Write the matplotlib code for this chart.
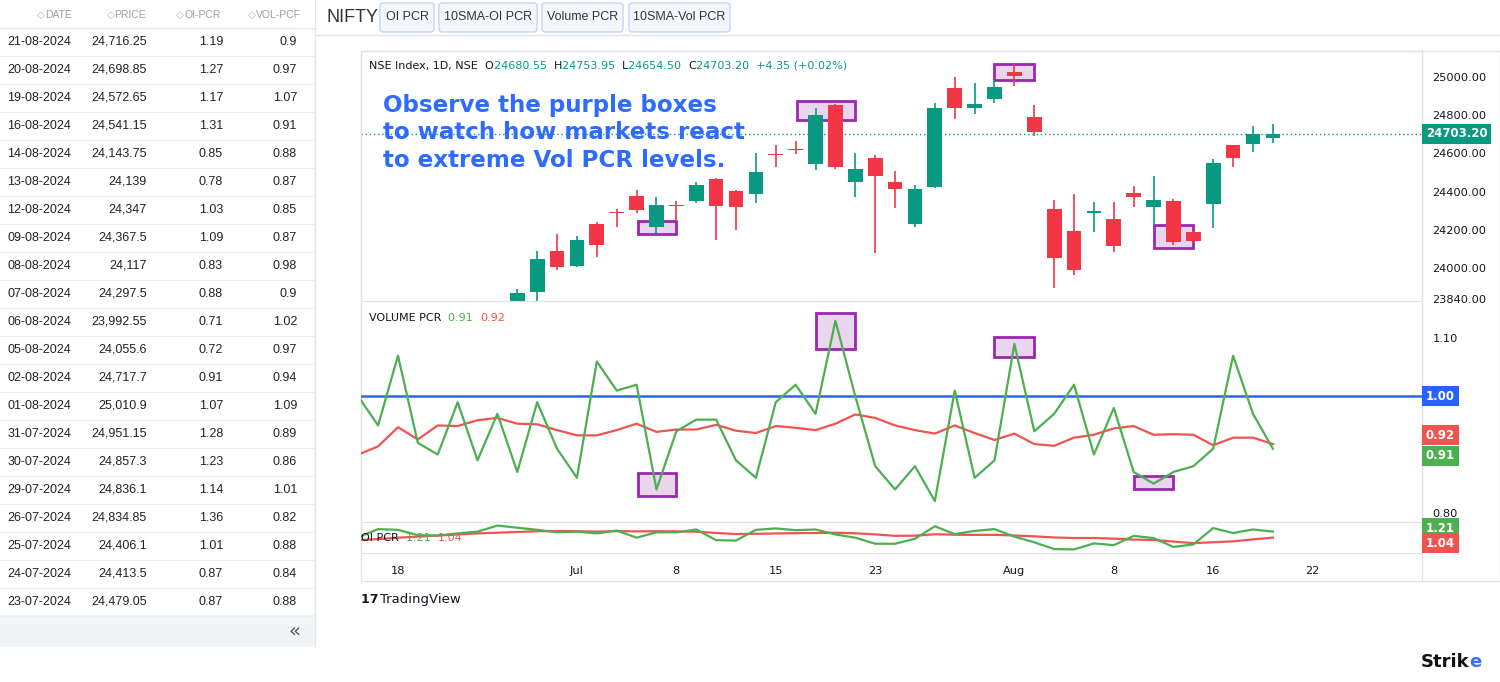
import numpy as np
import matplotlib
matplotlib.use('Agg')
import matplotlib.pyplot as plt
import matplotlib.transforms as mtransforms
from matplotlib.patches import Rectangle, FancyBboxPatch

W, H = 1500, 682

# table on the left (newest first)
tbl_date = ['21-08-2024', '20-08-2024', '19-08-2024', '16-08-2024', '14-08-2024', '13-08-2024',
            '12-08-2024', '09-08-2024', '08-08-2024', '07-08-2024', '06-08-2024', '05-08-2024',
            '02-08-2024', '01-08-2024', '31-07-2024', '30-07-2024', '29-07-2024', '26-07-2024',
            '25-07-2024', '24-07-2024', '23-07-2024']
tbl_price = ['24,716.25', '24,698.85', '24,572.65', '24,541.15', '24,143.75', '24,139',
             '24,347', '24,367.5', '24,117', '24,297.5', '23,992.55', '24,055.6',
             '24,717.7', '25,010.9', '24,951.15', '24,857.3', '24,836.1', '24,834.85',
             '24,406.1', '24,413.5', '24,479.05']
tbl_oi = ['1.19', '1.27', '1.17', '1.31', '0.85', '0.78', '1.03', '1.09', '0.83', '0.88', '0.71',
          '0.72', '0.91', '1.07', '1.28', '1.23', '1.14', '1.36', '1.01', '0.87', '0.87']
tbl_vol = ['0.9', '0.97', '1.07', '0.91', '0.88', '0.87', '0.85', '0.87', '0.98', '0.9', '1.02',
           '0.97', '0.94', '1.09', '0.89', '0.86', '1.01', '0.82', '0.88', '0.84', '0.88']
tbl_head = ['DATE', 'PRICE', 'OI-PCR', 'VOL-PCF']

# candles, x = trading day index (0 = 18 Jun)
candle_idx = list(range(6, 45))
opens = [23723, 23877, 24089, 24010, 24233, 24293, 24375, 24215, 24332, 24350, 24464, 24401, 24387,
         24594, 24620, 24545, 24854, 24450, 24573, 24448, 24231, 24424, 24943, 24835, 24882, 25026,
         24792, 24307, 24193, 24290, 24255, 24391, 24319, 24349, 24188, 24335, 24641, 24647, 24680.55]
highs = [23891, 24089, 24177, 24168, 24241, 24311, 24406, 24371, 24349, 24448, 24469, 24410, 24601,
         24641, 24667, 24837, 24858, 24601, 24589, 24510, 24432, 24865, 25000, 24969, 24984, 25071,
         24854, 24354, 24385, 24344, 24344, 24427, 24479, 24363, 24196, 24568, 24645, 24741, 24753.95]
lows = [23710, 23830, 23990, 24005, 24059, 24215, 24288, 24176, 24245, 24340, 24146, 24198, 24340,
        24528, 24597, 24514, 24517, 24371, 24080, 24314, 24215, 24418, 24778, 24804, 24861, 24953,
        24693, 23897, 23964, 24189, 24085, 24320, 24224, 24120, 24130, 24210, 24528, 24609, 24654.50]
closes = [23871, 24047, 24007, 24146, 24120, 24288, 24306, 24328, 24325, 24437, 24324, 24319, 24505,
          24592, 24618, 24802, 24531, 24516, 24481, 24413, 24411, 24839, 24835, 24859, 24948, 25005,
          24714, 24054, 23991, 24298, 24116, 24371, 24354, 24137, 24142, 24547, 24575, 24699, 24703.20]

# PCR panels
pcr_idx = list(range(-2, 45))
vol_pcr = [1.00, 0.95, 1.07, 0.92, 0.90, 0.99, 0.89, 0.97, 0.87, 0.99, 0.91, 0.86, 1.06, 1.01, 1.02,
           0.84, 0.94, 0.96, 0.96, 0.89, 0.86, 0.99, 1.02, 0.97, 1.13, 1.00, 0.88, 0.84, 0.88, 0.82,
           1.01, 0.86, 0.89, 1.09, 0.94, 0.97, 1.02, 0.90, 0.98, 0.87, 0.85, 0.87, 0.88, 0.91, 1.07,
           0.97, 0.91]
vol_sma = [0.900, 0.914, 0.947, 0.926, 0.950, 0.949, 0.959, 0.963, 0.953, 0.952, 0.942, 0.933, 0.933,
           0.942, 0.953, 0.939, 0.943, 0.943, 0.951, 0.941, 0.937, 0.949, 0.946, 0.942, 0.953, 0.969,
           0.963, 0.950, 0.942, 0.936, 0.950, 0.937, 0.925, 0.936, 0.918, 0.915, 0.929, 0.934, 0.945,
           0.949, 0.934, 0.935, 0.934, 0.916, 0.929, 0.929, 0.918]
oi_pcr = [1.05, 1.28, 1.26, 1.11, 1.10, 1.16, 1.21, 1.38, 1.32, 1.26, 1.19, 1.21, 1.16, 1.24, 1.04,
          1.19, 1.19, 1.27, 0.97, 0.96, 1.26, 1.30, 1.25, 1.27, 1.13, 1.04, 0.87, 0.87, 1.01, 1.36,
          1.14, 1.23, 1.28, 1.07, 0.91, 0.72, 0.71, 0.88, 0.83, 1.09, 1.03, 0.78, 0.85, 1.31, 1.17,
          1.27, 1.21]
oi_sma = [0.97, 1.00, 1.04, 1.07, 1.10, 1.13, 1.16, 1.18, 1.20, 1.22, 1.227, 1.220, 1.210, 1.223,
          1.217, 1.220, 1.218, 1.207, 1.172, 1.142, 1.149, 1.158, 1.167, 1.170, 1.179, 1.164, 1.132,
          1.092, 1.096, 1.136, 1.124, 1.117, 1.120, 1.100, 1.078, 1.046, 1.030, 1.031, 1.013, 0.986,
          0.975, 0.930, 0.887, 0.911, 0.937, 0.992, 1.042]

tick_pos = [0, 9, 14, 19, 24, 31, 36, 41, 46]
tick_lbl = ['18', 'Jul', '8', '15', '23', 'Aug', '8', '16', '22']

# purple highlight boxes: (x from, x to, low, high)
price_boxes = [(12.05, 14.0, 24177, 24246), (20.05, 23.0, 24776, 24871),
               (30.0, 32.0, 24984, 25069), (38.0, 40.0, 24106, 24224)]
vol_boxes = [(12.05, 14.0, 0.829, 0.868), (21.0, 23.0, 1.081, 1.144),
             (30.0, 32.0, 1.068, 1.102), (37.0, 39.0, 0.841, 0.863)]

GREEN, RED = '#089981', '#f23645'
LGREEN, LRED, BLUE = '#4caf50', '#f05350', '#2962ff'
TXT, GRID = '#131722', '#e0e3eb'
TF = ['Liberation Sans', 'DejaVu Sans']

plt.rcParams['font.family'] = ['DejaVu Sans']
fig = plt.figure(figsize=(W / 100, H / 100), dpi=100)


def px_axes(x0, y0, x1, y1, z=1):
    return fig.add_axes([x0 / W, 1 - y1 / H, (x1 - x0) / W, (y1 - y0) / H], zorder=z)


bg = px_axes(0, 0, W, H, z=0)
bg.set_xlim(0, W)
bg.set_ylim(H, 0)
bg.axis('off')
top = px_axes(0, 0, W, H, z=10)
top.set_xlim(0, W)
top.set_ylim(H, 0)
top.axis('off')
top.patch.set_alpha(0)


def colored(ax, x, y, parts, **kw):
    r = fig.canvas.get_renderer()
    for s, c in parts:
        t = ax.text(x, y, s, color=c, **kw)
        x += t.get_window_extent(r).width
    return x


# ---- left table ----
bg.add_patch(Rectangle((0, 615), 315, 32, fc='#f3f4f6', ec='none'))
bg.plot([315, 315], [0, 647], color='#e5e7eb', lw=1)
bg.plot([0, 315], [28, 28], color='#e5e7eb', lw=1)
for x, s in zip([71, 147, 223, 301], tbl_head):
    colored(bg, x - (len(s) * 6.3 + 9), 15, [('\u25c7', '#b0b4ba'), (s, '#9aa0a6')],
            va='center', fontsize=7.5, family=TF)
for k in range(len(tbl_date)):
    y = 42 + 28 * k
    bg.text(71, y, tbl_date[k], ha='right', va='center', fontsize=9, color='#222', family=TF)
    bg.text(147, y, tbl_price[k], ha='right', va='center', fontsize=9, color='#222', family=TF)
    bg.text(223, y, tbl_oi[k], ha='right', va='center', fontsize=9, color='#222', family=TF)
    bg.text(297, y, tbl_vol[k], ha='right', va='center', fontsize=9, color='#222', family=TF)
    bg.plot([0, 315], [y + 14, y + 14], color='#eceef1', lw=0.8)
bg.text(295, 631, '\u00ab', ha='center', va='center', fontsize=14, color='#555')
bg.add_patch(Rectangle((300, 0), 15, 28, fc='white', ec='none', zorder=5))

# ---- top bar ----
bg.text(327, 17, 'NIFTY', ha='left', va='center', fontsize=13, color='#333', family=TF)
for x0, x1, s in [(380, 434, 'OI PCR'), (439, 537, '10SMA-OI PCR'),
                  (542, 623, 'Volume PCR'), (629, 730, '10SMA-Vol PCR')]:
    bg.add_patch(FancyBboxPatch((x0, 3), x1 - x0, 29, boxstyle='round,pad=0,rounding_size=3',
                                fc='#f5f7fc', ec='#c6d4f3', lw=1))
    bg.text((x0 + x1) / 2, 17.5, s, ha='center', va='center', fontsize=9, color='#333', family=TF)
bg.plot([315, W], [35, 35], color='#e3e3e3', lw=1)

# chart frame
bg.add_patch(Rectangle((360.5, 50.5), 1139, 530, fc='white', ec=GRID, lw=1))
bg.plot([1422, 1422], [50, 580], color=GRID, lw=1)

xl = (-1.86, 51.5)
ax_p = px_axes(361, 51, 1422, 301)
ax_v = px_axes(361, 301, 1422, 522)
ax_o = px_axes(361, 522, 1422, 553)
for ax in (ax_p, ax_v, ax_o):
    ax.set_xlim(*xl)
    ax.patch.set_alpha(0)
    for s in ax.spines.values():
        s.set_color(GRID)
    ax.yaxis.tick_right()
    ax.tick_params(axis='y', length=0, pad=7.5, labelsize=8.2, labelcolor=TXT)
    ax.tick_params(axis='x', length=0)
    ax.set_xticks([])

# ---- candles ----
o, h, l, c = map(np.array, (opens, highs, lows, closes))
up = c >= o
cols = np.where(up, GREEN, RED)
ax_p.vlines(candle_idx, l, h, colors=cols, lw=1.2, zorder=3)
body_lo = np.minimum(o, c)
body_h = np.maximum(np.abs(c - o), 6)
ax_p.bar(candle_idx, body_h, bottom=body_lo, width=0.74, color=cols, zorder=4)
for x0, x1, lo, hi in price_boxes:
    ax_p.add_patch(Rectangle((x0, lo), x1 - x0, hi - lo, fc='#e9d5ee', ec='#9c27b0', lw=2, zorder=2))
ax_p.set_ylim(23828, 25135)
pticks = [23840, 24000, 24200, 24400, 24600, 24800, 25000]
ax_p.set_yticks(pticks)
ax_p.set_yticklabels(['%.2f' % v for v in pticks])
ax_p.axhline(closes[-1], color=GREEN, lw=1, ls=(0, (1, 2)), zorder=1)

lab_tr = lambda ax: mtransforms.blended_transform_factory(ax.transAxes, ax.transData) + \
    mtransforms.ScaledTranslation(4 / 100, 0, fig.dpi_scale_trans)


def axis_box(ax, v, s, col):
    ax.text(1.0, v, s, transform=lab_tr(ax), ha='left', va='center', fontsize=8.5, color='white',
            fontweight='bold', clip_on=False, zorder=20,
            bbox=dict(boxstyle='square,pad=0.3', fc=col, ec='none'))


axis_box(ax_p, closes[-1], '%.2f' % closes[-1], GREEN)

# ---- volume PCR ----
for x0, x1, lo, hi in vol_boxes:
    ax_v.add_patch(Rectangle((x0, lo), x1 - x0, hi - lo, fc='#e9d5ee', ec='#9c27b0', lw=2, zorder=2))
ax_v.axhline(1.0, color=BLUE, lw=1.8, zorder=3)
ax_v.plot(pcr_idx, vol_sma, color=LRED, lw=1.6, zorder=4)
ax_v.plot(pcr_idx, vol_pcr, color=LGREEN, lw=1.6, zorder=5)
ax_v.set_ylim(0.784, 1.164)
ax_v.set_yticks([0.8, 1.1])
ax_v.set_yticklabels(['0.80', '1.10'])
axis_box(ax_v, 1.0, '1.00', BLUE)
axis_box(ax_v, vol_sma[-1] + 0.015, '%.2f' % vol_sma[-1], LRED)
axis_box(ax_v, vol_pcr[-1] - 0.012, '%.2f' % vol_pcr[-1], LGREEN)

# ---- OI PCR ----
ax_o.plot(pcr_idx, oi_sma, color=LRED, lw=1.6, zorder=4)
ax_o.plot(pcr_idx, oi_pcr, color=LGREEN, lw=1.6, zorder=5)
ax_o.set_ylim(0.61, 1.48)
ax_o.set_yticks([])
axis_box(ax_o, 1.30, '%.2f' % oi_pcr[-1], LGREEN)
axis_box(ax_o, 0.88, '%.2f' % oi_sma[-1], LRED)
ax_o.set_xticks(tick_pos)
ax_o.set_xticklabels(tick_lbl)
ax_o.tick_params(axis='x', length=0, pad=9, labelsize=8.2, labelcolor=TXT)

# ---- texts over the chart ----
colored(top, 369, 69, [('NSE Index, 1D, NSE  ', TXT), ('O', TXT), ('24680.55  ', GREEN),
                       ('H', TXT), ('24753.95  ', GREEN), ('L', TXT), ('24654.50  ', GREEN),
                       ('C', TXT), ('24703.20  ', GREEN), ('+4.35 (+0.02%)', GREEN)],
        fontsize=8, va='baseline')
for y, s in [(112, 'Observe the purple boxes'), (139, 'to watch how markets react'),
             (167, 'to extreme Vol PCR levels.')]:
    top.text(383, y, s, fontsize=16.6, fontweight='bold', color='#2f6bff', va='baseline')
colored(top, 369, 321, [('VOLUME PCR  ', TXT), ('%.2f  ' % vol_pcr[-1], LGREEN),
                        ('%.2f' % vol_sma[-1], LRED)], fontsize=8, va='baseline')
colored(top, 361, 541, [('OI PCR  ', TXT), ('%.2f  ' % oi_pcr[-1], LGREEN),
                        ('%.2f' % oi_sma[-1], LRED)], fontsize=8, va='baseline')

colored(top, 361, 603, [('17 ', TXT)], fontsize=9, fontweight='bold', va='baseline')
top.text(380, 603, 'TradingView', fontsize=9.5, color=TXT, va='baseline')
colored(top, 1421, 667, [('Strik', '#111111'), ('e', '#3b6ff5')], fontsize=13,
        fontweight='bold', va='baseline')

fig.savefig('out.png', dpi=100)
